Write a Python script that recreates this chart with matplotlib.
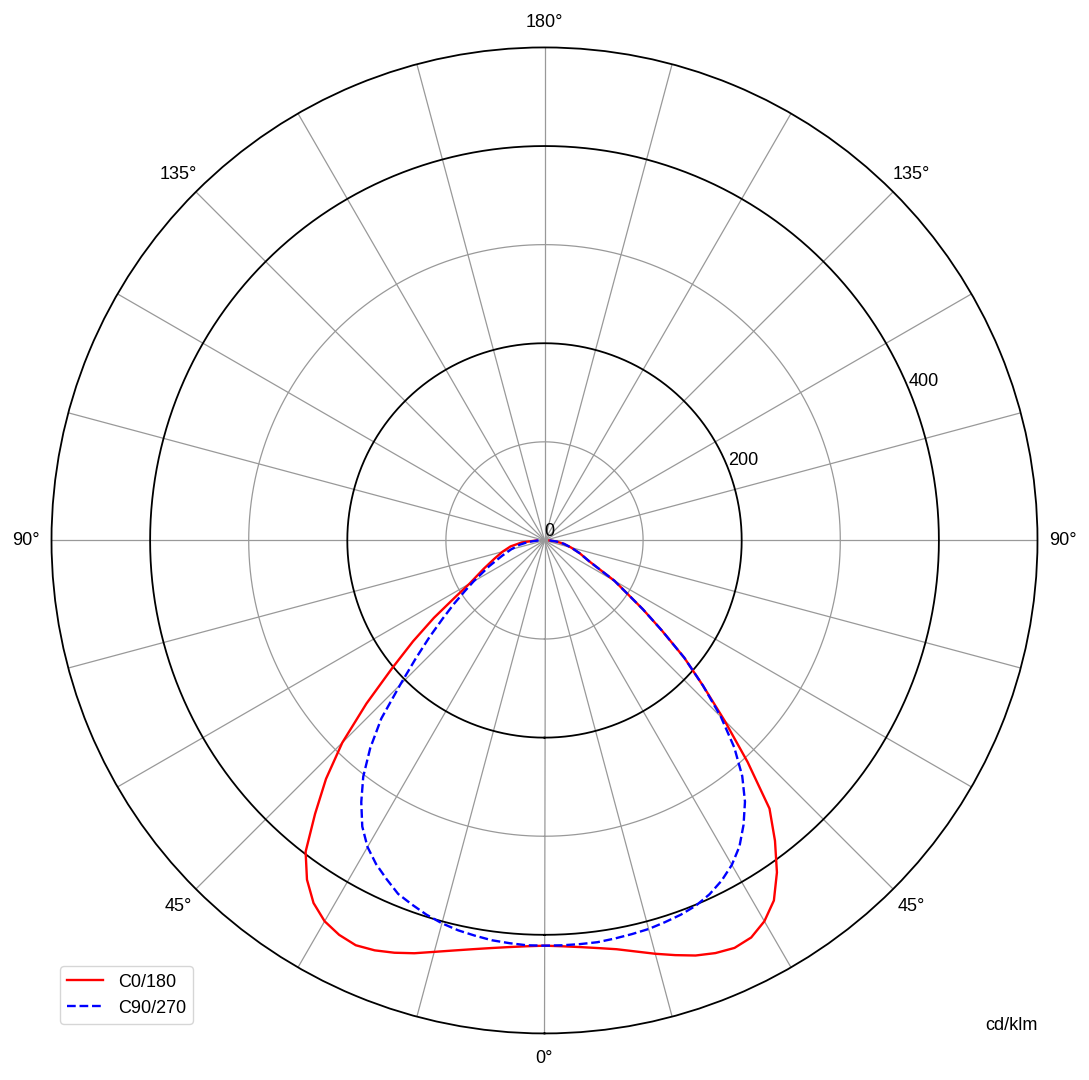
import numpy as np
import matplotlib
matplotlib.use('Agg')
import matplotlib.pyplot as plt

plt.rcParams['font.family'] = ['Liberation Sans', 'DejaVu Sans']

# gamma angles (deg) and intensities (cd/klm)
gamma = [0, 2.5, 5, 7.5, 10, 12.5, 15, 17.5, 20, 22.5, 25, 27.5, 30, 32.5, 35,
         37.5, 40, 42.5, 45, 47.5, 50, 52.5, 55, 57.5, 60, 65, 70, 75, 80, 85, 90]
c0 = [411, 412, 414, 417, 421, 427, 434, 441, 448, 453, 456, 454, 446, 433, 411,
      384, 355, 305, 258, 218, 185, 150, 122, 98, 82, 50, 38, 28, 20, 12, 5]
c180 = [411, 412, 414, 417, 421, 426, 432, 439, 445, 450, 453, 451, 446, 436, 420,
        398, 362, 328, 290, 245, 202, 168, 137, 108, 88, 68, 54, 44, 35, 23, 8]
c90 = [411, 411, 411, 411, 410, 409, 408, 406, 404, 401, 396, 389, 380, 368, 352,
       334, 312, 285, 253, 218, 185, 150, 122, 98, 82, 50, 38, 28, 20, 12, 5]
c270 = [411, 411, 410, 409, 407, 405, 402, 398, 393, 388, 379, 370, 359, 344, 324,
        302, 275, 245, 207, 177, 152, 130, 112, 96, 83, 62, 46, 35, 26, 16, 6]

rings = [100, 200, 300, 400]
rmax = 500
angle_labels = ['0°', '45°', '90°', '135°', '180°', '135°', '90°', '45°']

fig = plt.figure(figsize=(10.89, 10.8), dpi=100)
ax = fig.add_axes([0.0473, 0.0431, 0.9054, 0.9130], projection='polar')
ax.set_theta_zero_location('S')
ax.set_theta_direction(1)
ax.set_ylim(0, rmax)
ax.set_xticks([])
ax.set_yticks([])
ax.grid(False)
ax.spines['polar'].set_color('black')
ax.spines['polar'].set_linewidth(1.3)

# grid: spokes every 15 degrees and rings
circ = np.linspace(0, 2 * np.pi, 721)
for a in range(0, 360, 15):
    ax.plot([np.radians(a)] * 2, [0, rmax], color='#999999', lw=0.9, zorder=1)
for r in rings:
    col = 'black' if r % 200 == 0 else '#999999'
    lw = 1.3 if r % 200 == 0 else 0.9
    ax.plot(circ, [r] * len(circ), color=col, lw=lw, zorder=1)

# angle labels
for i, lab in enumerate(angle_labels):
    ax.text(np.radians(i * 45), 525.5, lab, ha='center', va='center',
            fontsize=13, clip_on=False)

# radial labels
ax.text(0, 0, '0', ha='left', va='bottom', fontsize=13)
for r in [200, 400]:
    ax.text(np.radians(113.5), r + 3, str(r), ha='left', va='center', fontsize=13)

g = np.radians(gamma)
theta = np.concatenate([-g[::-1], g])
red = np.concatenate([c180[::-1], c0])
blue = np.concatenate([c270[::-1], c90])

ax.plot(theta, red, color='red', lw=1.7, label='C0/180', zorder=3,
        solid_joinstyle='round')
ax.plot(theta, blue, color='blue', lw=1.7, ls='--', label='C90/270', zorder=4)

fig.legend(loc='lower left', bbox_to_anchor=(0.055, 0.052), borderaxespad=0,
           fontsize=13)
fig.text(1011 / 1089, 1 - 1025 / 1080, 'cd/klm', ha='center', va='center', fontsize=13)

fig.savefig('out.png', dpi=100)
